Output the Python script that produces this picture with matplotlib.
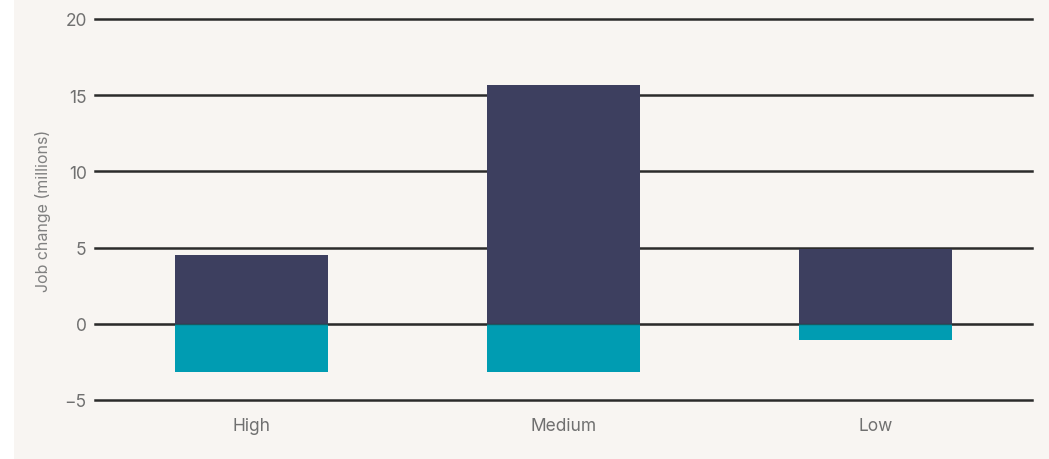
import numpy as np
import matplotlib.pyplot as plt
from matplotlib.patches import Rectangle

categories = ['High', 'Medium', 'Low']
gains = [4.5, 15.7, 4.9]
losses = [-3.15, -3.15, -1.05]
yticks = [-5, 0, 5, 10, 15, 20]

bg = '#f8f5f2'
navy = '#3d3f5f'
teal = '#009cb2'

plt.rcParams['font.family'] = ['Inter', 'DejaVu Sans']

fig = plt.figure(figsize=(10.49, 4.60), dpi=100, facecolor='white')
fig.patches.append(Rectangle((14 / 1049, 0), 1, 1, transform=fig.transFigure,
                             facecolor=bg, edgecolor='none', zorder=-10))
ax = fig.add_axes([95 / 1049, 59 / 460, (1032 - 95) / 1049, (401 - 20) / 460])
ax.set_facecolor(bg)

x = np.arange(len(categories))
for t in yticks:
    ax.axhline(t, color='#2b2b2b', lw=1.8, zorder=1, clip_on=False)
ax.bar(x, gains, width=0.49, color=navy, zorder=2)
ax.bar(x, losses, width=0.49, color=teal, zorder=2)
ax.axhline(0, color='#2b2b2b', lw=1.0, zorder=3, alpha=0.6)

ax.set_xlim(-0.5, 2.5)
ax.set_ylim(-5, 20)
ax.set_yticks(yticks)
ax.set_yticklabels(['\u22125' if t < 0 else str(t) for t in yticks])
ax.set_xticks(x)
ax.set_xticklabels(categories)
ax.tick_params(axis='both', length=0, labelsize=12.5, labelcolor='#707070')
ax.tick_params(axis='y', pad=6)
ax.tick_params(axis='x', pad=12)
for s in ax.spines.values():
    s.set_visible(False)
ax.set_ylabel('Job change (millions)', fontsize=11.5, color='#808080', labelpad=10)

plt.savefig('out.png', dpi=100, facecolor=fig.get_facecolor())
